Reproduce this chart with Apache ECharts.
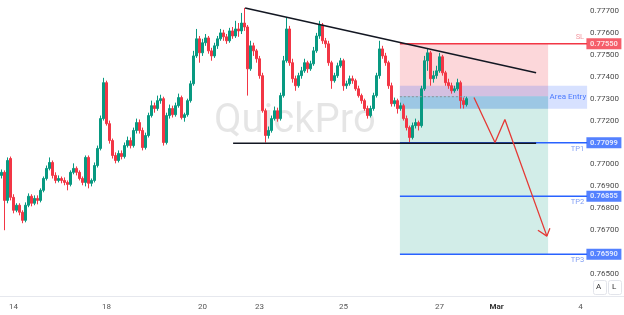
<!DOCTYPE html>
<html><head><meta charset="utf-8">
<script src="https://cdn.jsdelivr.net/npm/echarts@6/dist/echarts.min.js"></script>
<style>html,body{margin:0;padding:0;background:#fff}#c{width:624px;height:315px}</style>
</head><body><div id="c"></div>
<script>
// candles: [open, close, low, high]
const candles = [
[0.76950,0.76964,0.76936,0.76977],[0.76964,0.76836,0.76700,0.76973],[0.76836,0.77018,0.76823,0.77032],[0.77027,0.76850,0.76836,0.77036],
[0.76850,0.76791,0.76777,0.76864],[0.76791,0.76814,0.76782,0.76823],[0.76814,0.76782,0.76768,0.76823],[0.76782,0.76745,0.76732,0.76791],
[0.76745,0.76814,0.76736,0.76827],[0.76814,0.76855,0.76805,0.76868],[0.76855,0.76823,0.76809,0.76864],[0.76823,0.76845,0.76814,0.76859],
[0.76845,0.76836,0.76818,0.76859],[0.76836,0.76882,0.76827,0.76891],[0.76882,0.76936,0.76873,0.76945],[0.76936,0.76982,0.76927,0.76995],
[0.76982,0.77009,0.76973,0.77032],[0.77009,0.76950,0.76936,0.77018],[0.76950,0.76927,0.76914,0.76964],[0.76927,0.76936,0.76918,0.76950],
[0.76936,0.76927,0.76914,0.76945],[0.76927,0.76918,0.76905,0.76941],[0.76918,0.76909,0.76882,0.76927],[0.76909,0.76964,0.76900,0.76973],
[0.76964,0.76982,0.76955,0.77005],[0.76982,0.76964,0.76950,0.76991],[0.76964,0.76936,0.76927,0.76973],[0.76936,0.76918,0.76905,0.76945],
[0.76918,0.77032,0.76900,0.77041],[0.77032,0.76914,0.76891,0.77041],[0.76914,0.76927,0.76900,0.76936],[0.76927,0.76995,0.76918,0.77009],
[0.76995,0.77073,0.76986,0.77086],[0.77073,0.77209,0.77064,0.77223],[0.77209,0.77373,0.77200,0.77395],[0.77373,0.77186,0.77177,0.77382],
[0.77186,0.77109,0.77095,0.77200],[0.77109,0.77041,0.77027,0.77118],[0.77041,0.77018,0.77005,0.77055],[0.77018,0.77050,0.77009,0.77064],
[0.77050,0.77036,0.77023,0.77064],[0.77036,0.77086,0.77027,0.77100],[0.77086,0.77109,0.77077,0.77127],[0.77109,0.77086,0.77073,0.77123],
[0.77086,0.77155,0.77077,0.77168],[0.77155,0.77191,0.77141,0.77209],[0.77191,0.77155,0.77141,0.77205],[0.77155,0.77077,0.77064,0.77168],
[0.77077,0.77132,0.77068,0.77145],[0.77132,0.77223,0.77123,0.77236],[0.77223,0.77268,0.77214,0.77291],[0.77268,0.77255,0.77236,0.77282],
[0.77255,0.77291,0.77245,0.77314],[0.77291,0.77300,0.77277,0.77318],[0.77300,0.77100,0.77086,0.77309],[0.77100,0.77223,0.77091,0.77236],
[0.77223,0.77255,0.77209,0.77273],[0.77255,0.77227,0.77214,0.77268],[0.77227,0.77268,0.77218,0.77282],[0.77268,0.77305,0.77259,0.77323],
[0.77305,0.77214,0.77205,0.77314],[0.77214,0.77227,0.77195,0.77236],[0.77227,0.77291,0.77218,0.77300],[0.77291,0.77368,0.77282,0.77382],
[0.77368,0.77495,0.77359,0.77518],[0.77495,0.77573,0.77486,0.77618],[0.77573,0.77509,0.77464,0.77586],[0.77509,0.77555,0.77495,0.77573],
[0.77555,0.77577,0.77541,0.77595],[0.77577,0.77518,0.77505,0.77586],[0.77518,0.77495,0.77473,0.77532],[0.77495,0.77541,0.77486,0.77555],
[0.77541,0.77573,0.77527,0.77586],[0.77573,0.77600,0.77564,0.77618],[0.77600,0.77582,0.77564,0.77614],[0.77582,0.77564,0.77550,0.77595],
[0.77564,0.77609,0.77555,0.77623],[0.77609,0.77586,0.77573,0.77627],[0.77586,0.77618,0.77577,0.77655],[0.77618,0.77609,0.77582,0.77645],
[0.77609,0.77645,0.77595,0.77691],[0.77645,0.77627,0.77609,0.77714],[0.77627,0.77436,0.77314,0.77636],[0.77436,0.77541,0.77427,0.77564],
[0.77541,0.77518,0.77495,0.77555],[0.77518,0.77482,0.77464,0.77527],[0.77482,0.77405,0.77391,0.77495],[0.77405,0.77245,0.77236,0.77418],
[0.77245,0.77132,0.77100,0.77255],[0.77132,0.77155,0.77118,0.77173],[0.77155,0.77209,0.77145,0.77223],[0.77209,0.77245,0.77200,0.77264],
[0.77245,0.77209,0.77195,0.77259],[0.77209,0.77314,0.77200,0.77327],[0.77314,0.77473,0.77305,0.77495],[0.77473,0.77618,0.77464,0.77668],
[0.77618,0.77464,0.77450,0.77632],[0.77464,0.77391,0.77373,0.77482],[0.77391,0.77359,0.77336,0.77405],[0.77359,0.77405,0.77350,0.77418],
[0.77405,0.77427,0.77391,0.77445],[0.77427,0.77464,0.77418,0.77482],[0.77464,0.77436,0.77418,0.77473],[0.77436,0.77459,0.77427,0.77473],
[0.77459,0.77518,0.77450,0.77536],[0.77518,0.77586,0.77509,0.77600],[0.77586,0.77636,0.77573,0.77655],[0.77636,0.77564,0.77550,0.77645],
[0.77564,0.77550,0.77532,0.77577],[0.77550,0.77464,0.77450,0.77564],[0.77464,0.77382,0.77345,0.77473],[0.77382,0.77405,0.77373,0.77418],
[0.77405,0.77450,0.77395,0.77464],[0.77450,0.77473,0.77441,0.77486],[0.77473,0.77359,0.77336,0.77482],[0.77359,0.77368,0.77345,0.77382],
[0.77368,0.77391,0.77359,0.77405],[0.77391,0.77382,0.77368,0.77405],[0.77382,0.77345,0.77336,0.77391],[0.77345,0.77314,0.77305,0.77359],
[0.77314,0.77291,0.77277,0.77323],[0.77291,0.77255,0.77245,0.77300],[0.77255,0.77223,0.77209,0.77268],[0.77223,0.77255,0.77214,0.77268],
[0.77255,0.77314,0.77245,0.77327],[0.77314,0.77405,0.77305,0.77418],[0.77405,0.77527,0.77391,0.77564],[0.77527,0.77495,0.77482,0.77541],
[0.77495,0.77464,0.77450,0.77509],[0.77464,0.77359,0.77345,0.77473],[0.77359,0.77277,0.77264,0.77373],[0.77277,0.77291,0.77264,0.77305],
[0.77291,0.77255,0.77232,0.77300],[0.77255,0.77268,0.77245,0.77282],[0.77268,0.77209,0.77200,0.77277],[0.77209,0.77168,0.77155,0.77223],
[0.77168,0.77123,0.77100,0.77177],[0.77123,0.77177,0.77114,0.77191],[0.77177,0.77191,0.77164,0.77209],[0.77191,0.77177,0.77155,0.77200],
[0.77177,0.77345,0.77168,0.77359],[0.77345,0.77473,0.77336,0.77495],[0.77473,0.77509,0.77427,0.77527],[0.77509,0.77391,0.77359,0.77518],
[0.77391,0.77405,0.77373,0.77427],[0.77405,0.77427,0.77391,0.77450],[0.77427,0.77491,0.77418,0.77509],[0.77491,0.77418,0.77405,0.77500],
[0.77418,0.77373,0.77359,0.77427],[0.77373,0.77359,0.77345,0.77391],[0.77359,0.77336,0.77323,0.77373],[0.77336,0.77345,0.77327,0.77359],
[0.77345,0.77373,0.77336,0.77391],[0.77373,0.77291,0.77255,0.77382],[0.77291,0.77273,0.77255,0.77305],[0.77273,0.77300,0.77264,0.77309]
];
const totalSlots = 208;
const dayTickIndex = [4, 35, 67, 86, 114, 146, 165, 193];
const dayTickText = ['14', '18', '20', '23', '25', '27', 'Mar', '4'];
const priceTicks = ['0.77700','0.77600','0.77500','0.77400','0.77300','0.77200','0.77000','0.76900','0.76800','0.76700','0.76500'];

// drawing annotations, in (slot index, price)
const resistanceLine = [[81.2, 0.77714], [178.2, 0.77418]];
const supportLine = [[77.2, 0.77097], [178.2, 0.77097]];
const slPrice = 0.77550;
const entryPrice = 0.77311;
const tpPrices = [0.77099, 0.76855, 0.76590];
const tpNames = ['TP1', 'TP2', 'TP3'];
const zoneFrom = 132.8, zoneTo = 182.2, levelTo = 195.2;
const entryArea = [0.77359, 0.77254];
const projection = [[157.5, 0.77305], [164.5, 0.77100], [167.8, 0.77205], [181.8, 0.76673]];
const arrowHead = [[178.8, 0.76700], [181.8, 0.76673], [182.8, 0.76709]];
const entryDash = [[132.8, 0.77309], [154.5, 0.77309]];
const boxSlot = 200.8;

const slots = Array.from({length: totalSlots}, (_, i) => String(i));

const rects = [
  {v: [zoneFrom, zoneTo, slPrice, entryPrice], c: 'rgba(242,54,69,0.2)'},
  {v: [zoneFrom, zoneTo, entryPrice, tpPrices[2]], c: 'rgba(8,153,129,0.18)'},
  {v: [zoneFrom, levelTo, entryArea[0], entryArea[1]], c: 'rgba(41,98,255,0.19)'},
  {v: [zoneFrom, zoneTo, entryPrice, entryArea[1]], c: 'rgba(0,120,170,0.12)'}
];

function hline(p, color) {
  return {type: 'line', xAxisIndex: 1, data: [[zoneFrom, p], [levelTo, p]], symbol: 'none', silent: true,
    lineStyle: {color: color, width: 1.5}, z: 4, animation: false};
}

const FONT = 'Roboto';
const option = {
  animation: false,
  backgroundColor: '#ffffff',
  grid: {left: 0, right: 0, top: 0, bottom: 19},
  xAxis: [
    {type: 'category', data: slots, boundaryGap: true,
     axisLine: {show: true, lineStyle: {color: '#e6e8ee', width: 1}},
     axisTick: {show: false}, splitLine: {show: false},
     axisLabel: {interval: (i) => dayTickIndex.includes(i), margin: 7, fontSize: 8, color: '#555', fontFamily: FONT,
       formatter: (v, i) => { const k = dayTickIndex.indexOf(Number(v)); if (k < 0) return ''; const t = dayTickText[k]; return t === 'Mar' ? '{b|Mar}' : t; },
       rich: {b: {fontWeight: 'bold', color: '#333', fontSize: 8, fontFamily: FONT}}}},
    {type: 'value', min: -0.5, max: totalSlots - 0.5, show: false}
  ],
  yAxis: {type: 'value', position: 'right', min: 0.764, max: 0.7775, interval: 0.001, scale: true,
    axisLine: {show: false}, axisTick: {show: false}, splitLine: {show: false},
    axisLabel: {inside: true, margin: 5, fontSize: 8, color: '#4a4a4a', fontFamily: FONT,
      formatter: (v) => { const s = v.toFixed(5); return priceTicks.includes(s) ? s : ''; }}},
  graphic: [
    {type: 'text', left: 214, top: 102, z: 0, silent: true,
     style: {text: 'QuickPro', font: '40px Roboto', fill: 'rgba(0,0,0,0.1)'}},
    {type: 'rect', left: 593, top: 280, shape: {width: 13, height: 14, r: 2}, style: {fill: '#fff', stroke: '#e3e5eb', lineWidth: 1}},
    {type: 'text', left: 596, top: 283, style: {text: 'A', font: '8px Roboto', fill: '#333'}},
    {type: 'rect', left: 608, top: 280, shape: {width: 13, height: 14, r: 2}, style: {fill: '#fff', stroke: '#e3e5eb', lineWidth: 1}},
    {type: 'text', left: 612, top: 283, style: {text: 'L', font: '8px Roboto', fill: '#333'}}
  ],
  series: [
    {type: 'custom', xAxisIndex: 1, silent: true, z: 1,
     data: rects.map(r => ({value: r.v, itemStyle: {color: r.c}})),
     encode: {x: [0, 1], y: [2, 3]},
     renderItem: (params, api) => {
       const a = api.coord([api.value(0), api.value(2)]);
       const b = api.coord([api.value(1), api.value(3)]);
       return {type: 'rect', shape: {x: a[0], y: a[1], width: b[0] - a[0], height: b[1] - a[1]},
         style: {fill: api.visual('color')}};
     }},
    {type: 'candlestick', xAxisIndex: 0, data: candles, barWidth: '66%', z: 3, silent: true,
     itemStyle: {color: '#089981', color0: '#f23645', borderColor: '#089981', borderColor0: '#f23645', borderWidth: 1}},
    {type: 'line', xAxisIndex: 1, data: entryDash, symbol: 'none', silent: true, z: 4,
     lineStyle: {color: '#8a9099', width: 1, type: [2, 2]}},
    hline(slPrice, '#f23645'),
    hline(tpPrices[0], '#2962ff'),
    hline(tpPrices[1], '#2962ff'),
    hline(tpPrices[2], '#2962ff'),
    {type: 'line', xAxisIndex: 1, data: resistanceLine, symbol: 'none', silent: true, z: 5,
     lineStyle: {color: '#131722', width: 1.5}},
    {type: 'line', xAxisIndex: 1, data: supportLine, symbol: 'none', silent: true, z: 5,
     lineStyle: {color: '#131722', width: 1.5}},
    {type: 'line', xAxisIndex: 1, data: projection, symbol: 'none', silent: true, z: 5,
     lineStyle: {color: '#e53935', width: 1.3}},
    {type: 'line', xAxisIndex: 1, data: arrowHead, symbol: 'none', silent: true, z: 5,
     lineStyle: {color: '#e53935', width: 1.3}},
    {type: 'scatter', xAxisIndex: 1, symbol: 'rect', symbolSize: [35, 11], silent: true, z: 6,
     data: [{value: [boxSlot, slPrice], itemStyle: {color: '#f23645'}}].concat(
       tpPrices.map(p => ({value: [boxSlot, p], itemStyle: {color: '#2962ff'}}))),
     label: {show: true, position: 'inside', color: '#fff', fontSize: 7.5, fontWeight: 'bold', fontFamily: FONT,
       formatter: (p) => p.value[1].toFixed(5)}},
    {type: 'scatter', xAxisIndex: 1, symbolSize: 0, silent: true, z: 6,
     data: [{value: [192.8, slPrice], label: {position: 'top', distance: 3, color: '#f17f89'}, name: 'SL'}].concat(
       tpPrices.map((p, i) => ({value: [192.0, p], name: tpNames[i], label: {position: 'bottom', distance: 2, color: '#5f84f0'}}))),
     label: {show: true, fontSize: 7.5, fontFamily: FONT, formatter: (p) => p.name}},
    {type: 'scatter', xAxisIndex: 1, symbolSize: 0, silent: true, z: 6,
     data: [{value: [188.8, 0.77306], name: 'Area Entry'}],
     label: {show: true, position: 'inside', fontSize: 8, fontFamily: FONT, color: '#2962ff', formatter: (p) => p.name}}
  ]
};
const chart = echarts.init(document.getElementById('c'), null, {renderer: 'canvas'});
chart.setOption(option);
</script></body></html>
